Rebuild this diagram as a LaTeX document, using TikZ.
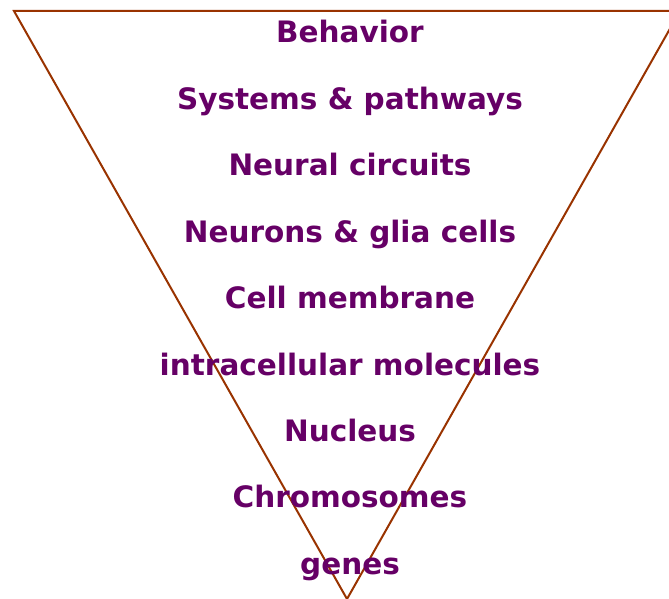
\documentclass[tikz,border=0pt]{standalone}
\usepackage{fontspec}
\setmainfont{DejaVu Sans}
\usetikzlibrary{positioning}
\definecolor{levelpurple}{HTML}{660066}
\definecolor{edgebrown}{HTML}{993300}

\begin{document}
\begin{tikzpicture}[x=1pt,y=-1pt,
    level/.style={anchor=base,text=levelpurple,font=\fontsize{29.5}{34}\selectfont\bfseries,inner sep=0pt},
    funnel/.style={draw=edgebrown,line width=2pt,line join=miter}]
    \useasboundingbox (0,0) rectangle (669,599);
    \coordinate (tl) at (14,11);
    \coordinate (tr) at (680,11);
    \coordinate (apex) at (347,599);
    \draw[funnel] (tr) -- (tl) -- (apex) -- (tr);
    \node[level] (behavior) at (350,43) {Behavior};
    \node[level] (systems) at (350,109.4) {Systems \& pathways};
    \node[level] (circuits) at (350,175.8) {Neural circuits};
    \node[level] (neurons) at (350,242.2) {Neurons \& glia cells};
    \node[level] (membrane) at (350,308.6) {Cell membrane};
    \node[level] (molecules) at (350,375) {intracellular molecules};
    \node[level] (nucleus) at (350,441.4) {Nucleus};
    \node[level] (chromosomes) at (350,507.8) {Chromosomes};
    \node[level] (genes) at (350,574.2) {genes};
  \end{tikzpicture}
\end{document}
